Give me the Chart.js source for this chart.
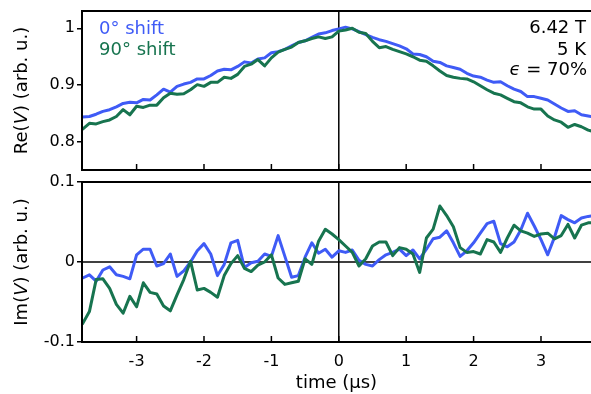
<!DOCTYPE html>
<html><head><meta charset="utf-8">
<script src="https://cdn.jsdelivr.net/npm/chart.js@4.4.1/dist/chart.umd.min.js"></script>
<style>
html,body{margin:0;padding:0;background:#fff;}
#wrap{position:relative;width:591px;height:394px;overflow:hidden;}
canvas{position:absolute;left:0;}
#re{top:0}
#im{top:164px}
</style></head><body>
<div id="wrap"><canvas id="re" width="591" height="176"></canvas><canvas id="im" width="591" height="230"></canvas></div>
<script>
// time axis (µs)
const times=[-3.8,-3.7,-3.6,-3.5,-3.4,-3.3,-3.2,-3.1,-3.0,-2.9,-2.8,-2.7,-2.6,-2.5,-2.4,-2.3,-2.2,-2.1,-2.0,-1.9,
  -1.8,-1.7,-1.6,-1.5,-1.4,-1.3,-1.2,-1.1,-1.0,-0.9,-0.8,-0.7,-0.6,-0.5,-0.4,-0.3,-0.2,-0.1,0,
  0.1,0.2,0.3,0.4,0.5,0.6,0.7,0.8,0.9,1.0,1.1,1.2,1.3,1.4,1.5,1.6,1.7,1.8,1.9,2.0,
  2.1,2.2,2.3,2.4,2.5,2.6,2.7,2.8,2.9,3.0,3.1,3.2,3.3,3.4,3.5,3.6,3.7,3.8];
// Re(V), 0° shift
const re0=[0.844,0.845,0.849,0.854,0.857,0.862,0.868,0.870,0.869,0.875,
  0.874,0.883,0.893,0.888,0.898,0.902,0.905,0.911,0.911,0.917,
  0.925,0.928,0.927,0.933,0.941,0.939,0.946,0.948,0.957,0.959,
  0.963,0.969,0.975,0.978,0.984,0.990,0.992,0.996,0.999,1.002,
  0.999,0.994,0.989,0.984,0.980,0.977,0.973,0.969,0.964,0.955,
  0.954,0.950,0.942,0.940,0.934,0.931,0.928,0.921,0.916,0.914,
  0.909,0.905,0.906,0.899,0.893,0.889,0.880,0.880,0.877,0.874,
  0.867,0.860,0.854,0.855,0.848,0.846,0.844];
// Re(V), 90° shift
const re90=[0.823,0.833,0.832,0.836,0.839,0.845,0.857,0.848,0.863,0.861,
  0.865,0.865,0.878,0.886,0.884,0.885,0.892,0.901,0.898,0.905,
  0.905,0.914,0.912,0.919,0.933,0.937,0.945,0.934,0.948,0.958,
  0.963,0.967,0.975,0.978,0.982,0.985,0.982,0.985,0.995,0.997,
  1.000,0.993,0.991,0.977,0.966,0.968,0.963,0.959,0.955,0.950,
  0.944,0.942,0.934,0.925,0.917,0.914,0.912,0.911,0.906,0.899,
  0.892,0.886,0.883,0.877,0.871,0.869,0.862,0.858,0.858,0.846,
  0.839,0.835,0.826,0.831,0.827,0.821,0.818];
// Im(V), 0° shift
const im0=[-0.020,-0.016,-0.024,-0.010,-0.006,-0.016,-0.018,-0.021,0.009,0.016,
  0.016,-0.005,-0.002,0.010,-0.018,-0.011,0.000,0.014,0.023,0.010,
  -0.017,-0.003,0.024,0.027,-0.007,-0.001,0.001,0.010,0.007,0.033,
  0.007,-0.019,-0.017,0.006,0.024,0.011,0.016,0.006,0.014,0.012,
  0.015,0.002,-0.003,-0.005,0.003,0.009,0.012,0.016,0.008,0.015,
  0.004,0.016,0.029,0.031,0.039,0.024,0.007,0.014,0.024,0.036,
  0.048,0.051,0.023,0.019,0.025,0.040,0.061,0.045,0.028,0.009,
  0.031,0.058,0.053,0.049,0.055,0.057,0.058];
// Im(V), 90° shift
const im90=[-0.077,-0.062,-0.022,-0.021,-0.033,-0.053,-0.064,-0.043,-0.056,-0.026,
  -0.038,-0.040,-0.055,-0.061,-0.041,-0.022,0.001,-0.035,-0.033,-0.038,
  -0.044,-0.017,-0.002,0.008,-0.008,-0.012,-0.004,0.000,0.009,-0.020,
  -0.028,-0.026,-0.024,0.004,-0.003,0.026,0.041,0.035,0.028,0.020,
  0.012,-0.005,0.004,0.020,0.025,0.025,0.008,0.018,0.016,0.010,
  -0.013,0.030,0.041,0.070,0.058,0.044,0.018,0.012,0.013,0.010,
  0.028,0.025,0.012,0.030,0.046,0.039,0.036,0.032,0.035,0.036,
  0.029,0.033,0.047,0.030,0.046,0.049,0.049];

const xTicks=[-3,-2,-1,0,1,2,3];
const reTicks=[0.8,0.9,1];
const imTicks=[-0.1,0,0.1];
const seriesNames=['0° shift','90° shift'];
const infoLines=['6.42 T','5 K'];

const BLUE='#3f5bf6',GREEN='#17744f';
const FONT='"DejaVu Sans", sans-serif';

function pts(arr){return times.map(function(t,i){return {x:t,y:arr[i]};});}

function line(ctx,x1,y1,x2,y2){ctx.beginPath();ctx.moveTo(x1,y1);ctx.lineTo(x2,y2);ctx.stroke();}

// rotated y title with italic V
function yTitle(ctx,cx,cy,parts){
  ctx.save();
  ctx.translate(cx,cy);ctx.rotate(-Math.PI/2);
  ctx.fillStyle='#000';ctx.textBaseline='middle';ctx.textAlign='left';
  let w=0;
  parts.forEach(function(p){ctx.font=(p[1]?'italic ':'')+'18px '+FONT;w+=ctx.measureText(p[0]).width;});
  let x=-w/2;
  parts.forEach(function(p){ctx.font=(p[1]?'italic ':'')+'18px '+FONT;ctx.fillText(p[0],x,0);x+=ctx.measureText(p[0]).width;});
  ctx.restore();
}

function framePlugin(o){
  return {
    id:'frame',
    beforeDatasetsDraw:function(chart){
      const ctx=chart.ctx,a=chart.chartArea,xs=chart.scales.x,ys=chart.scales.y;
      ctx.save();ctx.strokeStyle='#000';ctx.lineWidth=1.5;
      const x0=xs.getPixelForValue(0);
      line(ctx,x0,a.top,x0,a.bottom);
      if(o.hzero){const y0=ys.getPixelForValue(0);line(ctx,a.left,y0,a.right,y0);}
      ctx.restore();
    },
    afterDraw:function(chart){
      const ctx=chart.ctx,a=chart.chartArea,xs=chart.scales.x;
      ctx.save();ctx.strokeStyle='#000';ctx.lineWidth=2;
      line(ctx,a.left-1,a.top,a.right,a.top);
      line(ctx,a.left-1,a.bottom,a.right,a.bottom);
      line(ctx,a.left,a.top,a.left,a.bottom);
      ctx.lineWidth=1.5;
      xTicks.forEach(function(v){const px=xs.getPixelForValue(v);line(ctx,px,a.bottom,px,a.bottom-6);});
      ctx.restore();
      yTitle(ctx,22,(a.top+a.bottom)/2,o.title);
      if(o.labels){
        ctx.save();
        ctx.font='18px '+FONT;ctx.textBaseline='alphabetic';
        ctx.textAlign='left';
        ctx.fillStyle=BLUE;ctx.fillText(seriesNames[0],99,34);
        ctx.fillStyle=GREEN;ctx.fillText(seriesNames[1],99,55);
        ctx.fillStyle='#000';ctx.textAlign='right';
        ctx.fillText(infoLines[0],586,33);
        ctx.fillText(infoLines[1],586,55);
        // ϵ = 70% with italic epsilon
        const rest=' = 70%';
        const wr=ctx.measureText(rest).width;
        ctx.fillText(rest,587,75);
        ctx.font='italic 18px '+FONT;
        ctx.fillText('\u03f5',587-wr,75);
        ctx.restore();
      }
    }
  };
}

function yScale(min,max,ticks){
  return {
    type:'linear',min:min,max:max,
    afterBuildTicks:function(s){s.ticks=ticks.map(function(v){return {value:v};});},
    afterFit:function(s){s.width=82;s.paddingTop=0;s.paddingBottom=0;},
    border:{display:false},
    grid:{drawOnChartArea:false,tickLength:5,color:'#000',lineWidth:1.5},
    ticks:{color:'#000',font:{family:FONT,size:16},padding:2,callback:function(v){return String(v);}}
  };
}

function baseOptions(){
  return {
    responsive:false,animation:false,events:[],
    plugins:{legend:{display:false},tooltip:{enabled:false}},
    elements:{point:{radius:0},line:{borderWidth:3,tension:0,borderJoinStyle:'round',borderCapStyle:'round'}}
  };
}

const optRe=baseOptions();
optRe.layout={padding:{top:11,bottom:6,left:0,right:0}};
optRe.scales={
  x:{type:'linear',min:-3.81,max:3.742,display:false,
    afterBuildTicks:function(s){s.ticks=xTicks.map(function(v){return {value:v};});},
    afterFit:function(s){s.paddingLeft=0;s.paddingRight=0;}},
  y:yScale(0.751,1.0304,reTicks)
};
new Chart(document.getElementById('re'),{
  type:'line',
  data:{datasets:[
    {label:seriesNames[0],data:pts(re0),borderColor:BLUE,order:1},
    {label:seriesNames[1],data:pts(re90),borderColor:GREEN,order:0}
  ]},
  options:optRe,
  plugins:[framePlugin({hzero:false,labels:true,title:[['Re(',false],['V',true],[') (arb. u.)',false]]})]
});

const optIm=baseOptions();
optIm.layout={padding:{top:18,bottom:0,left:0,right:0}};
optIm.scales={
  x:{type:'linear',min:-3.81,max:3.742,
    afterBuildTicks:function(s){s.ticks=xTicks.map(function(v){return {value:v};});},
    afterFit:function(s){s.height=52;s.paddingLeft=0;s.paddingRight=0;},
    border:{display:false},
    grid:{display:false,drawTicks:false},
    ticks:{color:'#000',font:{family:FONT,size:16},padding:10,maxRotation:0,autoSkip:false,callback:function(v){return String(v);}},
    title:{display:true,text:'time (µs)',color:'#000',font:{family:FONT,size:18},padding:0}
  },
  y:yScale(-0.1,0.1,imTicks)
};
new Chart(document.getElementById('im'),{
  type:'line',
  data:{datasets:[
    {label:seriesNames[0],data:pts(im0),borderColor:BLUE,order:1},
    {label:seriesNames[1],data:pts(im90),borderColor:GREEN,order:0}
  ]},
  options:optIm,
  plugins:[framePlugin({hzero:true,labels:false,title:[['Im(',false],['V',true],[') (arb. u.)',false]]})]
});
</script>
</body></html>
